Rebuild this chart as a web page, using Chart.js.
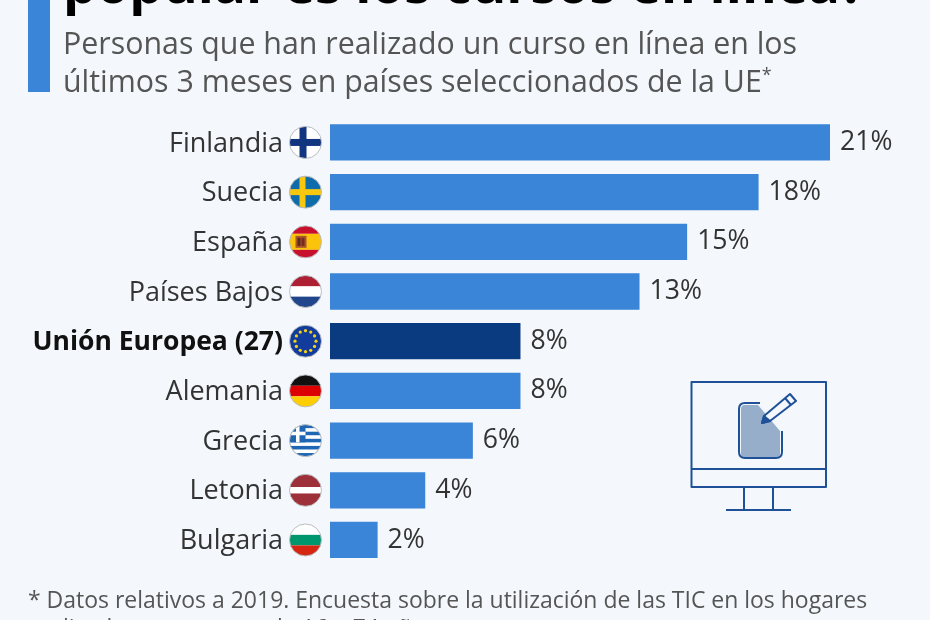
<!DOCTYPE html>
<html lang="es">

<head>
    <meta charset="utf-8">
    <title>Cursos en línea</title>
    <script src="https://cdn.jsdelivr.net/npm/chart.js"></script>
    <style>
        html, body {
            margin: 0;
            width: 930px;
            height: 620px;
            overflow: hidden;
            background-color: #f4f8fc;
            font-family: "Open Sans", sans-serif;
        }

        #wrap { position: relative; width: 930px; height: 620px; overflow: hidden; }
        #myChart { position: absolute; left: 0; top: 0; }
        #accent { position: absolute; left: 28px; top: 0; width: 22px; height: 92px; background: #3a85d7; }
        #title { position: absolute; left: 63px; top: -49px; font-size: 53px; line-height: 64px; font-weight: 700; color: #000; white-space: nowrap; }
        #subtitle { position: absolute; left: 63px; top: 24px; font-size: 30.35px; line-height: 37.5px; color: #555; white-space: nowrap; }
        #subtitle sup { font-size: 18px; line-height: 0; }
        #note { position: absolute; left: 28px; top: 585px; font-size: 22.97px; line-height: 28px; color: #555; white-space: nowrap; }
        #icon { position: absolute; left: 0; top: 0; }
    </style>
</head>

<body>
    <div id="wrap">
        <canvas id="myChart" width="930" height="620"></canvas>
        <div id="accent"></div>
        <div id="title">popular es los cursos en línea?</div>
        <div id="subtitle">Personas que han realizado un curso en línea en los<br>últimos 3 meses en países seleccionados de la UE<sup>*</sup></div>
        <div id="note">* Datos relativos a 2019. Encuesta sobre la utilización de las TIC en los hogares<br>realizada en personas de 16 a 74 años</div>
        <svg id="icon" width="930" height="620" fill="none" stroke="#1f5199" stroke-width="2" stroke-linejoin="round">
            <rect x="691.5" y="382" width="134.5" height="105"></rect>
            <path d="M691.5 469H826M744 487V510H773V487M726 510H791"></path>
            <path d="M741 409q0-4 4-4h13l22 26v23q0 4-4 4h-31q-4 0-4-4z" fill="#97aecb" stroke="none"></path>
            <path d="M760 403H745q-6 0-6 6v43q0 6 6 6h31q6 0 6-6V431"></path>
            <path d="M762 423L764 416L790 394L796 401L770 421Z" fill="#f4f8fc"></path>
            <path d="M762 423L764 416L770 421Z" fill="#1f5199"></path>
            <path d="M785 398L791 405"></path>
        </svg>
    </div>

    <script>
        const categories = ['Finlandia', 'Suecia', 'España', 'Países Bajos', 'Unión Europea (27)', 'Alemania', 'Grecia', 'Letonia', 'Bulgaria'];
        const values = [21, 18, 15, 13, 8, 8, 6, 4, 2];
        const highlight = 'Unión Europea (27)';

        // horizontal stripes, top to bottom: [colour, share of the height]
        const stripes = {
            'Suecia': [['#0f6cab', 1]],
            'España': [['#c8102e', .25], ['#fcc30b', .5], ['#c8102e', .25]],
            'Países Bajos': [['#ae1f33', .34], ['#fff', .32], ['#21468b', .34]],
            'Alemania': [['#111', .34], ['#dd0000', .33], ['#ffce00', .33]],
            'Letonia': [['#9e3039', .4], ['#fff', .2], ['#9e3039', .4]],
            'Bulgaria': [['#fff', .34], ['#00966e', .33], ['#d62612', .33]]
        };

        function drawFlag(c, name, x, y, r) {
            const rect = (col, a, b, w, h) => { c.fillStyle = col; c.fillRect(a, b, w, h); };
            c.save();
            c.beginPath();
            c.arc(x, y, r, 0, Math.PI * 2);
            c.clip();
            rect('#fff', x - r, y - r, 2 * r, 2 * r);
            let top = y - r;
            (stripes[name] || []).forEach(s => {
                rect(s[0], x - r, top, 2 * r, s[1] * 2 * r);
                top += s[1] * 2 * r;
            });
            if (name === 'Finlandia') {
                rect('#12357f', x - r, y - 3.5, 2 * r, 7);
                rect('#12357f', x - 6, y - r, 7, 2 * r);
            }
            if (name === 'Suecia') {
                rect('#f9c80e', x - r, y - 3, 2 * r, 6);
                rect('#f9c80e', x - 6, y - r, 6, 2 * r);
            }
            if (name === 'España') {
                rect('#a8552a', x - 10, y - 6, 11, 12);
                rect('#5a2a1e', x - 8, y - 4, 3, 8);
                rect('#7a2a1e', x - 4, y - 4, 3, 8);
            }
            if (name === 'Grecia') {
                rect('#1f67b5', x - r, y - r, 2 * r, 2 * r);
                for (let i = 1; i < 9; i += 2) rect('#fff', x - r, y - r + i * 2 * r / 9, 2 * r, 2 * r / 9);
                rect('#1f67b5', x - r, y - r, r, 5 * 2 * r / 9);
                rect('#fff', x - r, y - r + 2 * 2 * r / 9, r, 2 * r / 9);
                rect('#fff', x - r / 2 - 1.5, y - r, 3.5, 5 * 2 * r / 9);
            }
            if (name === highlight) {
                rect('#123c9c', x - r, y - r, 2 * r, 2 * r);
                c.fillStyle = '#f7d117';
                for (let i = 0; i < 12; i++) {
                    const a = i * Math.PI / 6;
                    c.beginPath();
                    c.arc(x + Math.cos(a) * 10.5, y + Math.sin(a) * 10.5, 1.6, 0, Math.PI * 2);
                    c.fill();
                }
            }
            c.restore();
            c.beginPath();
            c.arc(x, y, r, 0, Math.PI * 2);
            c.strokeStyle = '#b9bcc0';
            c.lineWidth = 1;
            c.stroke();
        }

        // flags left of the bars and the % label at the end of each bar
        const barExtras = {
            id: 'barExtras',
            afterDatasetsDraw(chart) {
                const c = chart.ctx;
                const { x, y } = chart.scales;
                categories.forEach((name, i) => {
                    const py = y.getPixelForValue(i);
                    drawFlag(c, name, 305.5, py, 16);
                    c.fillStyle = '#333';
                    c.font = '26.6px "Open Sans"';
                    c.textBaseline = 'middle';
                    c.textAlign = 'left';
                    c.fillText(values[i] + '%', x.getPixelForValue(values[i]) + 10, py);
                });
            }
        };

        new Chart(document.getElementById('myChart'), {
            type: 'bar',
            plugins: [barExtras],
            data: {
                labels: categories,
                datasets: [{
                    data: values,
                    backgroundColor: categories.map(n => n === highlight ? '#0a3a80' : '#3a85d7'),
                    categoryPercentage: 1,
                    barPercentage: 0.73
                }]
            },
            options: {
                indexAxis: 'y',
                responsive: false,
                animation: false,
                layout: { padding: { top: 117.6, bottom: 47.4, right: 100 } },
                plugins: { legend: { display: false }, tooltip: { enabled: false } },
                scales: {
                    x: { display: false, min: 0, max: 21 },
                    y: {
                        afterFit: s => { s.width = 330; },
                        grid: { display: false },
                        border: { display: false },
                        ticks: {
                            autoSkip: false,
                            color: ctx => categories[ctx.index] === highlight ? '#111' : '#333',
                            padding: 39,
                            labelOffset: 1.5,
                            font: ctx => ({
                                family: '"Open Sans"',
                                size: categories[ctx.index] === highlight ? 26.5 : 27,
                                weight: categories[ctx.index] === highlight ? '700' : '400'
                            })
                        }
                    }
                }
            }
        });
    </script>
</body>

</html>
